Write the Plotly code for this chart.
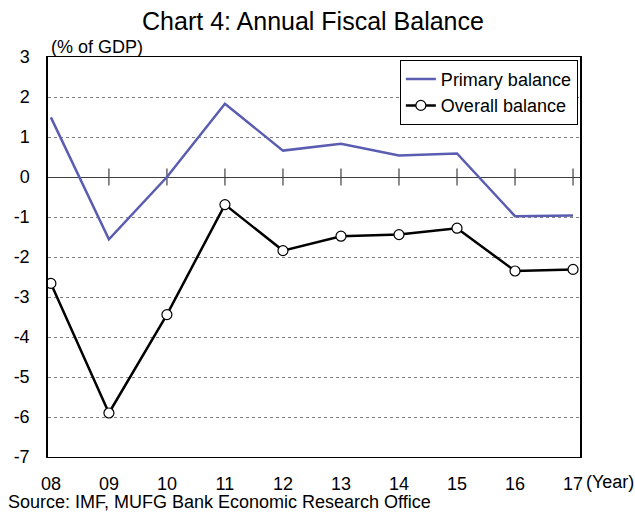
import plotly.graph_objects as go

years = ["08", "09", "10", "11", "12", "13", "14", "15", "16", "17"]
primary = [1.49, -1.56, 0.0, 1.83, 0.66, 0.83, 0.54, 0.59, -0.98, -0.96]
overall = [-2.66, -5.90, -3.44, -0.69, -1.84, -1.48, -1.44, -1.28, -2.35, -2.31]
y_ticks = [3, 2, 1, 0, -1, -2, -3, -4, -5, -6, -7]
y_labels = [str(v) for v in y_ticks]

FONT = "Arial, Liberation Sans, sans-serif"
FS = 18
xs = list(range(len(years)))

fig = go.Figure()
# tick marks crossing the zero line
fig.add_trace(go.Scatter(
    x=xs[1:], y=[0] * (len(xs) - 1), mode="markers",
    marker=dict(symbol="line-ns", size=12, line=dict(color="#404040", width=1.2)),
    showlegend=False, hoverinfo="skip"))
fig.add_trace(go.Scatter(
    x=xs, y=primary, mode="lines", name="Primary balance",
    line=dict(color="#5A5DB0", width=2.5)))
fig.add_trace(go.Scatter(
    x=xs, y=overall, mode="lines+markers", name="Overall balance",
    line=dict(color="black", width=2.5),
    marker=dict(symbol="circle", size=10, color="white",
                line=dict(color="black", width=1.2))))

fig.update_layout(
    width=635, height=515,
    margin=dict(l=48, r=55, t=57, b=58),
    paper_bgcolor="white", plot_bgcolor="white",
    font=dict(family=FONT, size=FS, color="black"),
    title=dict(text="Chart 4: Annual Fiscal Balance", x=313 / 635, xanchor="center",
               y=1 - 21 / 515, yanchor="middle", yref="container",
               font=dict(size=25, family=FONT, color="black")),
    legend=dict(x=0.996, y=0.993, xanchor="right", yanchor="top",
                bordercolor="black", borderwidth=1, bgcolor="white",
                font=dict(size=FS, family=FONT), itemwidth=30,
                tracegroupgap=0),
    showlegend=True,
)
fig.update_xaxes(
    range=[-0.05, 9.12], tickvals=xs, ticktext=years, showgrid=False,
    zeroline=False, showline=True, linecolor="black", linewidth=1, mirror=True,
    ticks="", ticklabelstandoff=10, tickfont=dict(size=FS, family=FONT))
fig.update_yaxes(
    range=[-7, 3], tickvals=y_ticks, ticktext=y_labels, showgrid=True,
    gridcolor="#808080",
    griddash="dot", gridwidth=1, zeroline=True, zerolinecolor="#404040",
    zerolinewidth=1.2, showline=True, linecolor="black", linewidth=1.5,
    mirror=True, ticks="", ticklabelstandoff=13,
    tickfont=dict(size=FS, family=FONT))

fig.add_annotation(text="(% of GDP)", xref="paper", yref="paper",
                   x=(49 - 48) / 532, y=(457 - 47) / 400,
                   xanchor="left", yanchor="middle", showarrow=False,
                   font=dict(size=FS))
fig.add_annotation(text="(Year)", xref="paper", yref="paper",
                   x=(584 - 48) / 532, y=(457 - 482) / 400,
                   xanchor="left", yanchor="middle", showarrow=False,
                   font=dict(size=FS))
fig.add_annotation(text="Source: IMF, MUFG Bank Economic Research Office",
                   xref="paper", yref="paper",
                   x=(6 - 48) / 532, y=(457 - 502) / 400,
                   xanchor="left", yanchor="middle", showarrow=False,
                   font=dict(size=FS))

fig.write_html("out.html")
